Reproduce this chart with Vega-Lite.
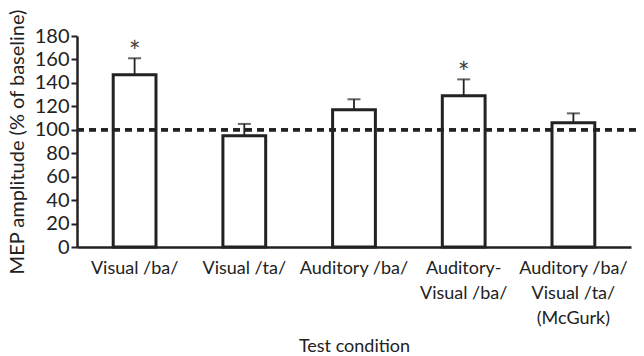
{
  "$schema": "https://vega.github.io/schema/vega-lite/v6.json",
  "autosize": "none",
  "width": 554,
  "height": 211,
  "padding": {"left": 77, "top": 36, "right": 13, "bottom": 109},
  "background": "white",
  "config": {
    "view": {"stroke": null},
    "font": "Lato",
    "axis": {"labelFont": "Lato", "titleFont": "Lato", "labelColor": "#222", "titleColor": "#222", "titleFontWeight": "normal", "domainColor": "#222", "tickColor": "#222"},
    "axisY": {"tickCount": 9, "labelOverlap": false, "labelFontSize": 20, "labelPadding": 2, "tickSize": 6, "tickWidth": 2, "domainWidth": 2.5, "grid": false, "titleFontSize": 20, "titlePadding": 7}
  },
  "data": {
    "values": [
      {"condition": "Visual /ba/", "mean": 147, "upper": 161, "sig": "*"},
      {"condition": "Visual /ta/", "mean": 95, "upper": 105, "sig": ""},
      {"condition": "Auditory /ba/", "mean": 117, "upper": 126, "sig": ""},
      {"condition": "Auditory-Visual /ba/", "mean": 129, "upper": 143, "sig": "*"},
      {"condition": "Auditory /ba/ Visual /ta/ (McGurk)", "mean": 106, "upper": 114, "sig": ""}
    ]
  },
  "encoding": {
    "x": {
      "field": "condition",
      "type": "nominal",
      "sort": null,
      "scale": {"paddingInner": 0.61, "paddingOuter": 0.33},
      "axis": {
        "title": "Test condition",
        "titleFontSize": 18,
        "titlePadding": 10,
        "labelAngle": 0,
        "labelFontSize": 18,
        "labelPadding": 12,
        "labelLineHeight": 25,
        "labelBaseline": "top",
        "labelOverlap": false,
        "ticks": false,
        "domainWidth": 2.5,
        "labelExpr": "datum.label == 'Auditory-Visual /ba/' ? ['Auditory-', 'Visual /ba/'] : datum.label == 'Auditory /ba/ Visual /ta/ (McGurk)' ? ['Auditory /ba/', 'Visual /ta/', '(McGurk)'] : datum.label"
      }
    }
  },
  "layer": [
    {
      "mark": {"type": "bar", "fill": "white", "stroke": "#222", "strokeWidth": 3},
      "encoding": {
        "y": {
          "field": "mean",
          "type": "quantitative",
          "scale": {"domain": [0, 180], "nice": false},
          "axis": {"title": "MEP amplitude (% of baseline)"}
        }
      }
    },
    {
      "mark": {"type": "rule", "color": "#222", "strokeWidth": 1.8},
      "encoding": {
        "y": {"field": "mean", "type": "quantitative"},
        "y2": {"field": "upper"}
      }
    },
    {
      "mark": {"type": "tick", "color": "#222", "thickness": 2, "size": 13, "orient": "horizontal"},
      "encoding": {
        "y": {"field": "upper", "type": "quantitative"}
      }
    },
    {
      "mark": {"type": "text", "color": "#444", "fontSize": 28, "baseline": "bottom", "dy": 10},
      "encoding": {
        "y": {"field": "upper", "type": "quantitative"},
        "text": {"field": "sig"}
      }
    },
    {
      "mark": {"type": "rule", "color": "#222", "strokeWidth": 2.8, "strokeDash": [7, 5]},
      "encoding": {
        "y": {"datum": 100, "type": "quantitative"},
        "x": {"value": 0},
        "x2": {"value": 564}
      }
    }
  ]
}
